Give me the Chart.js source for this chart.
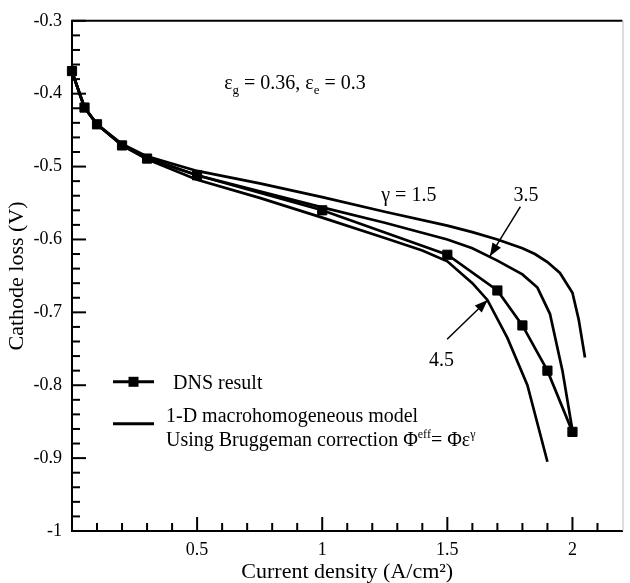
<!DOCTYPE html>
<html><head><meta charset="utf-8">
<script src="https://cdn.jsdelivr.net/npm/chart.js@4"></script>
<style>html,body{margin:0;padding:0;background:#fff}canvas{display:block}</style>
</head><body>
<canvas id="c" width="630" height="583"></canvas>
<script>
// ---- data ----
const dnsX = [0, 0.05, 0.1, 0.2, 0.3, 0.5, 1.0, 1.5, 1.7, 1.8, 1.9, 2.0];
const dnsY = [-0.369, -0.419, -0.442, -0.471, -0.489, -0.512, -0.56, -0.621, -0.67, -0.718, -0.78, -0.864];

const g15X = [0, 0.05, 0.1, 0.2, 0.3, 0.5, 0.75, 1.0, 1.25, 1.5, 1.6, 1.7, 1.8, 1.85, 1.9, 1.95, 2.0, 2.025, 2.05];
const g15Y = [-0.37, -0.419, -0.442, -0.469, -0.486, -0.506, -0.523, -0.542, -0.562, -0.581, -0.590, -0.600, -0.612, -0.620, -0.631, -0.646, -0.673, -0.71, -0.762];

const g35X = [0, 0.05, 0.1, 0.2, 0.3, 0.5, 0.75, 1.0, 1.25, 1.5, 1.6, 1.7, 1.8, 1.86, 1.91, 1.96, 2.0];
const g35Y = [-0.37, -0.419, -0.442, -0.47, -0.488, -0.512, -0.534, -0.556, -0.577, -0.600, -0.612, -0.629, -0.648, -0.666, -0.702, -0.78, -0.862];

const g45X = [0, 0.05, 0.1, 0.2, 0.3, 0.5, 0.75, 1.0, 1.25, 1.4, 1.5, 1.6, 1.66, 1.74, 1.82, 1.9];
const g45Y = [-0.37, -0.419, -0.442, -0.471, -0.49, -0.518, -0.543, -0.570, -0.598, -0.615, -0.63, -0.66, -0.683, -0.735, -0.80, -0.905];

const xTickValues = [0.5, 1, 1.5, 2];
const xTickLabels = ['0.5', '1', '1.5', '2'];
const yTickValues = [-0.3, -0.4, -0.5, -0.6, -0.7, -0.8, -0.9, -1];
const yTickLabels = ['-0.3', '-0.4', '-0.5', '-0.6', '-0.7', '-0.8', '-0.9', '-1'];

const FONT = '"Liberation Serif", "Times New Roman", serif';

function pts(xs, ys) { return xs.map((x, i) => ({ x: x, y: ys[i] })); }

function drawRuns(ctx, x, y, runs) {
  for (const r of runs) {
    ctx.font = (r.s || 20) + 'px ' + FONT;
    ctx.fillText(r.t, x, y + (r.dy || 0));
    x += ctx.measureText(r.t).width;
  }
}

function arrow(ctx, x1, y1, x2, y2) {
  ctx.beginPath(); ctx.moveTo(x1, y1); ctx.lineTo(x2, y2); ctx.stroke();
  const a = Math.atan2(y2 - y1, x2 - x1), L = 13, W = 5;
  ctx.beginPath();
  ctx.moveTo(x2, y2);
  ctx.lineTo(x2 - L * Math.cos(a) + W * Math.sin(a), y2 - L * Math.sin(a) - W * Math.cos(a));
  ctx.lineTo(x2 - L * Math.cos(a) - W * Math.sin(a), y2 - L * Math.sin(a) + W * Math.cos(a));
  ctx.closePath(); ctx.fill();
}

const decor = {
  id: 'decor',
  afterDatasetsDraw(chart) {
    const { ctx, chartArea: ca, scales: { x, y } } = chart;
    const X = v => x.getPixelForValue(v), Y = v => y.getPixelForValue(v);
    ctx.save();
    ctx.strokeStyle = '#000'; ctx.fillStyle = '#000';
    // frame top & right
    ctx.lineWidth = 2;
    ctx.beginPath(); ctx.moveTo(ca.left - 1, ca.top); ctx.lineTo(ca.right, ca.top); ctx.stroke();
    ctx.strokeStyle = '#bbb'; ctx.lineWidth = 1;
    ctx.beginPath(); ctx.moveTo(ca.right + 0.5, ca.top); ctx.lineTo(ca.right + 0.5, ca.bottom); ctx.stroke();
    ctx.strokeStyle = '#000'; ctx.lineWidth = 2;
    // inward ticks
    for (let i = 0; i <= 35; i++) {
      const v = -1 + i * 0.02; const py = Y(v);
      const len = (i % 5 === 0) ? 14 : 8;
      ctx.beginPath(); ctx.moveTo(ca.left, py); ctx.lineTo(ca.left + len, py); ctx.stroke();
    }
    for (let i = 1; i <= 21; i++) {
      const v = i * 0.1; const px = X(v);
      const len = (i % 5 === 0) ? 14 : 8;
      ctx.beginPath(); ctx.moveTo(px, ca.bottom); ctx.lineTo(px, ca.bottom - len); ctx.stroke();
    }
    // annotations
    ctx.textBaseline = 'alphabetic'; ctx.textAlign = 'left';
    drawRuns(ctx, X(0.608), Y(-0.3845) + 7, [
      { t: '\u03B5' }, { t: 'g', s: 13, dy: 5 }, { t: ' = 0.36, \u03B5' }, { t: 'e', s: 13, dy: 5 }, { t: ' = 0.3' }
    ]);
    drawRuns(ctx, X(1.236), Y(-0.537) + 7, [{ t: '\u03B3 = 1.5' }]);
    ctx.font = '20px ' + FONT; ctx.textAlign = 'center';
    ctx.fillText('3.5', X(1.814), Y(-0.537) + 7);
    ctx.fillText('4.5', X(1.477), Y(-0.764) + 7);
    ctx.lineWidth = 1.5;
    arrow(ctx, X(1.792), Y(-0.555), X(1.670), Y(-0.623));
    arrow(ctx, X(1.499), Y(-0.737), X(1.661), Y(-0.683));
    // legend
    ctx.textAlign = 'left';
    const lx1 = ca.left + 41, lx2 = ca.left + 82;
    const ly1 = ca.top + 361, ly2 = ca.top + 403;
    ctx.lineWidth = 3;
    ctx.beginPath(); ctx.moveTo(lx1, ly1); ctx.lineTo(lx2, ly1); ctx.stroke();
    ctx.fillRect((lx1 + lx2) / 2 - 5, ly1 - 5, 10, 10);
    ctx.beginPath(); ctx.moveTo(lx1, ly2); ctx.lineTo(lx2, ly2); ctx.stroke();
    drawRuns(ctx, ca.left + 101, ly1 + 7, [{ t: 'DNS result' }]);
    drawRuns(ctx, ca.left + 94, ly1 + 40, [{ t: '1-D macrohomogeneous model' }]);
    drawRuns(ctx, ca.left + 94, ly1 + 64, [
      { t: 'Using Bruggeman correction \u03A6' }, { t: 'eff', s: 12, dy: -8 }, { t: '= \u03A6\u03B5' }, { t: '\u03B3', s: 12, dy: -8 }
    ]);
    ctx.restore();
  }
};

const lineStyle = { borderColor: '#000', borderWidth: 2.7, pointRadius: 0, showLine: true, tension: 0, fill: false };

new Chart(document.getElementById('c'), {
  type: 'scatter',
  data: {
    datasets: [
      Object.assign({ label: 'DNS result', data: pts(dnsX, dnsY) }, lineStyle,
        { pointRadius: 6.5, pointStyle: 'rect', pointBackgroundColor: '#000', pointBorderColor: '#000', pointBorderWidth: 1, clip: 12 }),
      Object.assign({ label: '\u03B3 = 1.5', data: pts(g15X, g15Y) }, lineStyle),
      Object.assign({ label: '3.5', data: pts(g35X, g35Y) }, lineStyle),
      Object.assign({ label: '4.5', data: pts(g45X, g45Y) }, lineStyle)
    ]
  },
  options: {
    responsive: false, animation: false, devicePixelRatio: 1,
    layout: { padding: { left: 0, right: 2, top: 19, bottom: 0 } },
    plugins: { legend: { display: false }, tooltip: { enabled: false } },
    scales: {
      x: {
        type: 'linear', min: 0, max: 2.2,
        afterBuildTicks: s => { s.ticks = xTickValues.map(v => ({ value: v })); },
        afterFit: s => { s.height = 52; },
        grid: { display: false, drawTicks: false },
        border: { display: true, color: '#000', width: 2 },
        ticks: { color: '#000', padding: 8, font: { family: FONT, size: 18 }, callback: (v, i) => xTickLabels[i] },
        title: { display: true, text: 'Current density (A/cm\u00B2)', color: '#000', padding: 0, font: { family: FONT, size: 22, lineHeight: 1 } }
      },
      y: {
        type: 'linear', min: -1, max: -0.3,
        afterBuildTicks: s => { s.ticks = yTickValues.map(v => ({ value: v })); },
        afterFit: s => { s.width = 72; },
        grid: { display: false, drawTicks: false },
        border: { display: true, color: '#000', width: 2 },
        ticks: { color: '#000', padding: 10, font: { family: FONT, size: 18 }, callback: (v, i) => yTickLabels[i] },
        title: { display: true, text: 'Cathode loss (V)', color: '#000', padding: { top: 6, bottom: 0 }, font: { family: FONT, size: 22, lineHeight: 1 } }
      }
    }
  },
  plugins: [decor]
});
</script>
</body></html>
